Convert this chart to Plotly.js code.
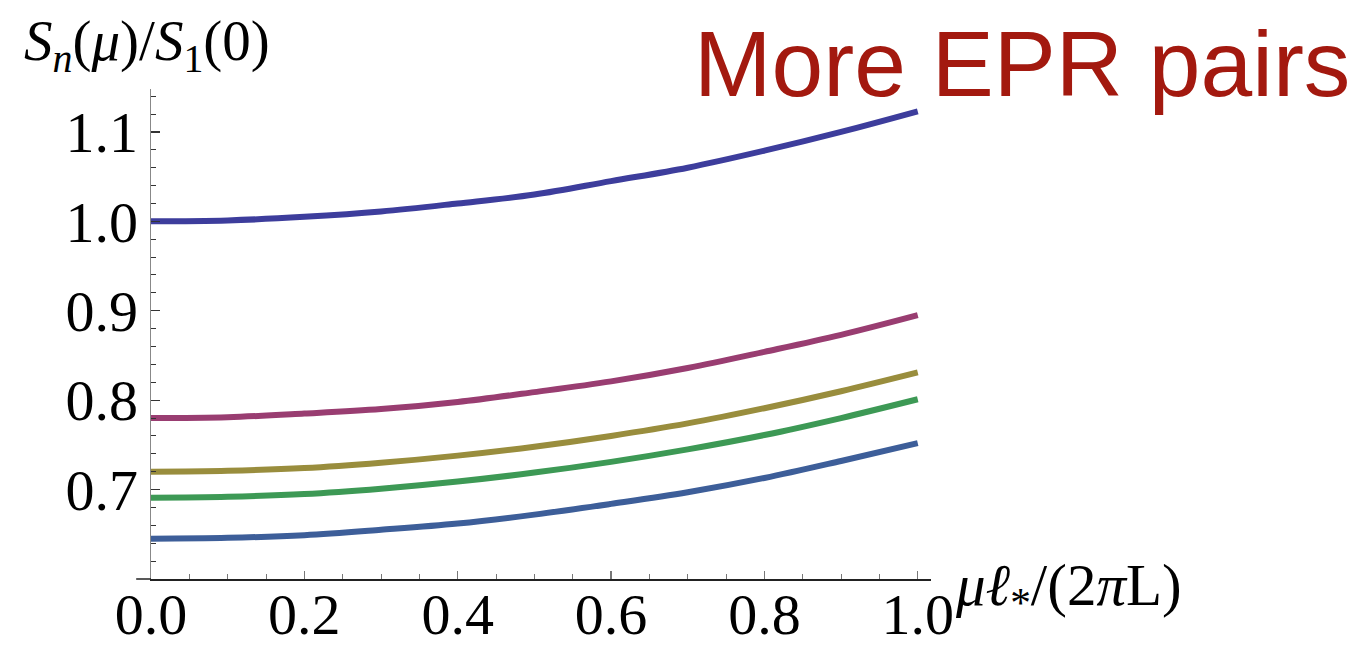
<!DOCTYPE html>
<html>
<head>
<meta charset="utf-8">
<script src="https://cdn.plot.ly/plotly-3.0.1.min.js"></script>
<style>
  html, body { margin: 0; padding: 0; background: #ffffff; }
  #chart { width: 1367px; height: 646px; }
</style>
</head>
<body>
<div id="chart"></div>
<script>
// x values: mu*l_* / (2 pi L)
const xValues = [0.0, 0.1, 0.2, 0.3, 0.4, 0.5, 0.6, 0.7, 0.8, 0.9, 1.0];

// S_n(mu)/S_1(0) (top to bottom)
const curveA = [1.000, 1.001, 1.005, 1.011, 1.020, 1.030, 1.045, 1.060, 1.079, 1.100, 1.123];
const curveB = [0.780, 0.781, 0.785, 0.790, 0.798, 0.809, 0.821, 0.836, 0.854, 0.873, 0.895];
const curveC = [0.720, 0.721, 0.724, 0.730, 0.738, 0.748, 0.760, 0.774, 0.791, 0.810, 0.831];
const curveD = [0.691, 0.692, 0.695, 0.701, 0.709, 0.719, 0.731, 0.745, 0.761, 0.780, 0.801];
const curveE = [0.645, 0.646, 0.649, 0.655, 0.662, 0.672, 0.684, 0.697, 0.713, 0.732, 0.752];

const seriesNames = ["n = 1", "n = 2", "n = 3", "n = 4", "n = 5"];
const seriesColors = ["#3d3d9c", "#993d71", "#998d3d", "#3d9955", "#3d5e99"];

const xTickVals = [0.0, 0.2, 0.4, 0.6, 0.8, 1.0];
const xTickText = ["0.0", "0.2", "0.4", "0.6", "0.8", "1.0"];
const yTickVals = [0.7, 0.8, 0.9, 1.0, 1.1];
const yTickText = ["0.7", "0.8", "0.9", "1.0", "1.1"];

const allCurves = [curveA, curveB, curveC, curveD, curveE];
const traces = allCurves.map((ys, i) => ({
  x: xValues,
  y: ys,
  type: "scatter",
  mode: "lines",
  name: seriesNames[i],
  line: { color: seriesColors[i], width: 6, shape: "spline", smoothing: 1.0 },
  hoverinfo: "x+y"
}));

const serif = "Liberation Serif, Times New Roman, serif";

const layout = {
  width: 1367,
  height: 646,
  margin: { l: 151, r: 436, t: 89, b: 67 },
  paper_bgcolor: "#ffffff",
  plot_bgcolor: "#ffffff",
  showlegend: false,
  font: { family: serif, size: 58, color: "#000000" },
  xaxis: {
    range: [0, 1.0173],
    showgrid: false,
    zeroline: false,
    showline: true,
    linecolor: "#222222",
    linewidth: 1.5,
    ticks: "inside",
    ticklen: 8,
    tickwidth: 1.2,
    tickcolor: "#777777",
    tickvals: xTickVals,
    ticktext: xTickText,
    ticklabelstandoff: -16,
    tickfont: { family: serif, size: 58, color: "#000000" },
    minor: { tick0: 0, dtick: 0.05, ticks: "inside", ticklen: 5, tickwidth: 1, tickcolor: "#777777" }
  },
  yaxis: {
    range: [0.6, 1.148],
    showgrid: false,
    zeroline: false,
    showline: true,
    linecolor: "#888888",
    linewidth: 1.5,
    ticks: "inside",
    ticklen: 9,
    tickwidth: 1.2,
    tickcolor: "#333333",
    tickvals: yTickVals,
    ticktext: yTickText,
    ticklabelstandoff: 0,
    tickfont: { family: serif, size: 58, color: "#000000" },
    minor: { tick0: 0.6, dtick: 0.02, ticks: "inside", ticklen: 5, tickwidth: 1, tickcolor: "#333333" }
  },
  shapes: [
    { type: "line", xref: "paper", yref: "paper", x0: -0.019, x1: 0, y0: 0, y1: 0,
      line: { color: "#222222", width: 1.5 } }
  ],
  annotations: [
    {
      text: "<i>S</i><sub><i>n</i></sub>(<i>μ</i>)/<i>S</i><sub>1</sub>(0)",
      xref: "paper", yref: "paper", x: -0.005, y: 1.09,
      xanchor: "center", yanchor: "middle", showarrow: false,
      font: { family: serif, size: 57, color: "#000000" }
    },
    {
      text: "<i>μℓ</i><sub>*</sub>/(2<i>π</i>L)",
      xref: "paper", yref: "paper", x: 1.028, y: -0.02,
      xanchor: "left", yanchor: "middle", showarrow: false,
      font: { family: serif, size: 59, color: "#000000" }
    },
    {
      text: "More EPR pairs",
      xref: "paper", yref: "paper", x: 1.117, y: 1.05,
      xanchor: "center", yanchor: "middle", showarrow: false,
      font: { family: "Liberation Sans, Arial, sans-serif", size: 93, color: "#a3190f" }
    }
  ]
};

Plotly.newPlot("chart", traces, layout, { staticPlot: true, displayModeBar: false });
</script>
</body>
</html>
